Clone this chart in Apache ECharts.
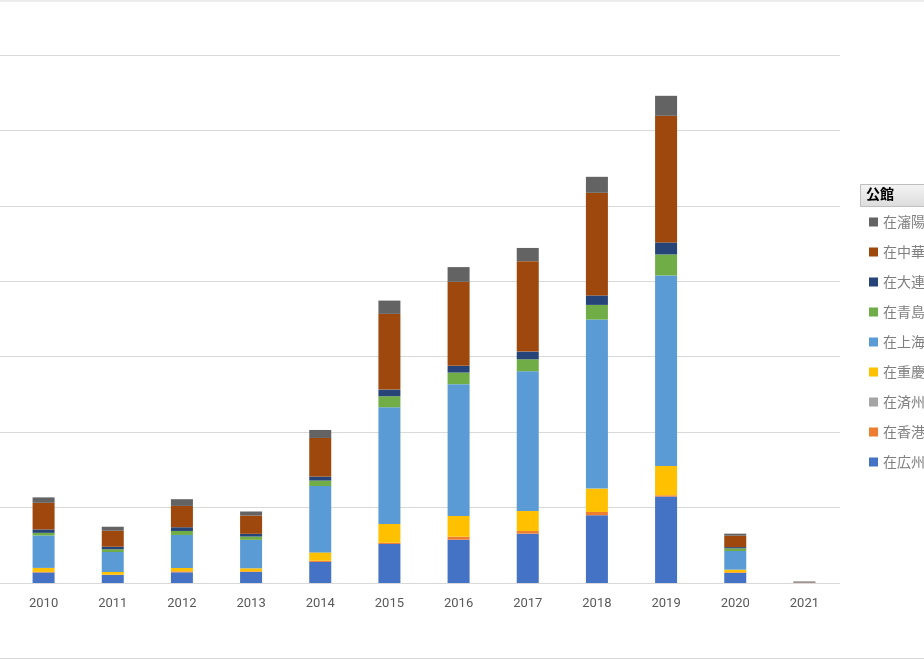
<!DOCTYPE html>
<html>
<head>
<meta charset="utf-8">
<title>公館別 積み上げ</title>
<script src="https://cdn.jsdelivr.net/npm/echarts@6/dist/echarts.min.js"></script>
<style>
  html, body { margin: 0; padding: 0; background: #fff; }
  #chart { width: 924px; height: 660px; }
</style>
</head>
<body>
<div id="chart"></div>
<script>
"use strict";

/***** data *****/
var years = ['2010','2011','2012','2013','2014','2015','2016','2017','2018','2019','2020','2021'];

var guangzhou = [14, 10.6, 14.2, 14.6, 27.9, 51.7, 57.4, 65.4, 89.8, 114.6, 13.3, 0.4];
var hongkong  = [0.7, 0.4, 1.3, 0.9, 1.7, 1.7, 4, 3.5, 4.4, 1.7, 0.9, 0];
var jeju      = [0, 0, 0, 0, 0, 0, 0, 0, 0, 0, 0, 0];
var chongqing = [5.3, 3.6, 4.4, 4, 11, 24.8, 27.5, 26.5, 31, 38.9, 3.5, 0];
var shanghai  = [43, 26.5, 43.8, 37.7, 88, 154.8, 174.7, 185.3, 224.1, 252.5, 24.7, 0.4];
var qingdao   = [3.5, 3.6, 5.3, 4.4, 7.2, 14.6, 15.4, 15.9, 19.4, 27.9, 3.5, 0];
var dalian    = [4.5, 3.4, 4.9, 3.6, 5.3, 8.8, 8.9, 10.2, 12.5, 15.9, 1.7, 0];
var beijing   = [35.3, 21.2, 28.3, 24.3, 51.2, 100.4, 111.4, 119.8, 136.1, 167.9, 15.1, 0.6];
var shenyang  = [7.2, 5.3, 8.9, 5.3, 10.6, 17.6, 19.5, 17.6, 21.2, 26.5, 2.7, 0.6];

// bottom -> top stacking order
var seriesNames = [
	'在広州日本国総領事館',
	'在香港日本国総領事館',
	'在済州日本国総領事館',
	'在重慶日本国総領事館',
	'在上海日本国総領事館',
	'在青島日本国総領事館',
	'在大連日本国領事事務所',
	'在中華人民共和国日本国大使館',
	'在瀋陽日本国総領事館'
];
var seriesData = [guangzhou, hongkong, jeju, chongqing, shanghai, qingdao, dalian, beijing, shenyang];
var seriesColors = ['#4472C4','#ED7D31','#A5A5A5','#FFC000','#5B9BD5','#70AD47','#264478','#9E480E','#636363'];

/***** chart *****/
var chart = echarts.init(document.getElementById('chart'));

var series = [];
for (var i = 0; i < seriesNames.length; i++) {
	series.push({
		name: seriesNames[i],
		type: 'bar',
		stack: 'total',
		barWidth: 22,
		data: seriesData[i],
		itemStyle: { color: seriesColors[i] },
		emphasis: { disabled: true }
	});
}

var option = {
	animation: false,
	textStyle: { fontFamily: '"Noto Sans CJK JP", Roboto, sans-serif' },
	// grid 0 holds the bars, grid 1 only the gridlines (they run to the left edge)
	grid: [
		{ left: 9, right: 85, top: 55, bottom: 77, containLabel: false },
		{ left: 0, right: 84, top: 55, bottom: 77, containLabel: false }
	],
	xAxis: [{
		type: 'category',
		gridIndex: 0,
		data: years,
		axisLine: { show: false },
		axisTick: { show: false },
		axisLabel: { color: '#595959', fontSize: 13, fontFamily: 'Roboto, sans-serif', margin: 14 },
		z: 3
	}, {
		type: 'value',
		gridIndex: 1,
		show: false
	}],
	yAxis: [{
		type: 'value',
		gridIndex: 0,
		min: 0,
		max: 700,
		interval: 100,
		axisLine: { show: false },
		axisTick: { show: false },
		axisLabel: { show: false },
		splitLine: { show: false }
	}, {
		type: 'value',
		gridIndex: 1,
		min: 0,
		max: 700,
		interval: 100,
		axisLine: { show: false },
		axisTick: { show: false },
		axisLabel: { show: false },
		splitLine: { lineStyle: { color: '#d9d9d9', width: 1 } }
	}],
	legend: {
		orient: 'vertical',
		left: 864,
		top: 207,
		icon: 'rect',
		itemWidth: 9,
		itemHeight: 9,
		itemGap: 10,
		data: seriesNames.slice().reverse(),
		textStyle: { color: '#7f7f7f', fontSize: 14, lineHeight: 20, padding: [0, 0, 0, 0] },
		selectedMode: false
	},
	graphic: [
		{ type: 'line', silent: true, shape: { x1: 0, y1: 1, x2: 924, y2: 1 }, style: { stroke: '#d9d9d9', lineWidth: 1 } },
		{ type: 'line', silent: true, shape: { x1: 0, y1: 658.5, x2: 924, y2: 658.5 }, style: { stroke: '#d9d9d9', lineWidth: 1 } },
		{
			type: 'rect', silent: true,
			shape: { x: 860.5, y: 184.5, width: 70, height: 22 },
			style: {
				fill: new echarts.graphic.LinearGradient(0, 0, 0, 1, [
					{ offset: 0, color: '#f4f4f4' },
					{ offset: 1, color: '#dcdcdc' }
				]),
				stroke: '#bfbfbf', lineWidth: 1
			}
		},
		{
			type: 'text', silent: true, left: 866, top: 187,
			style: { text: '公館', fill: '#000', font: 'bold 14px "Noto Sans CJK JP"' }
		}
	],
	series: series
};

chart.setOption(option);
</script>
</body>
</html>
